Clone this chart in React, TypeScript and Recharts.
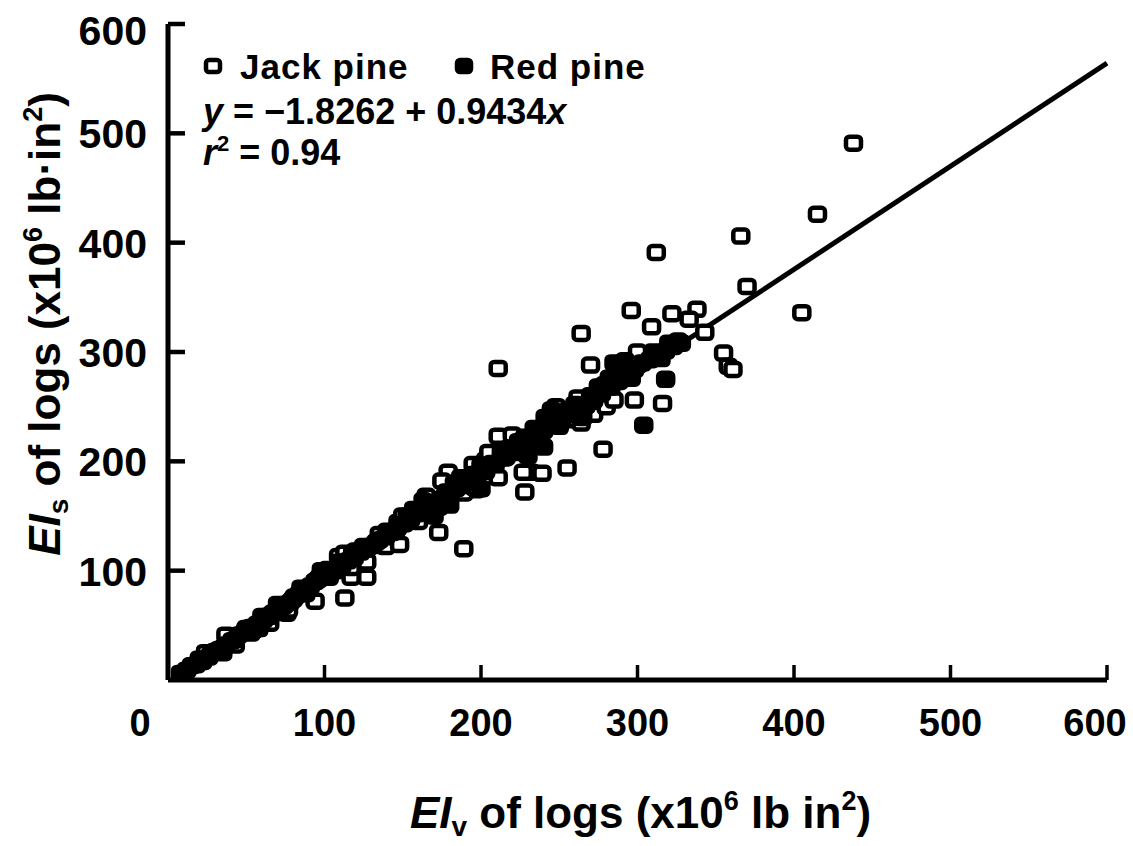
import React from 'react';
import { Legend, ReferenceLine, Scatter, ScatterChart, XAxis, YAxis } from 'recharts';

const FONT = '"Liberation Sans", Arial, Helvetica, sans-serif';

const xTicks = [0, 100, 200, 300, 400, 500, 600];
const yTicks = [100, 200, 300, 400, 500, 600];

// Jack pine: EIv (x) and EIs (y), x10^6 lb·in²
const jackPineEIv = [
  438, 415, 366, 370, 405, 343, 312, 296, 309, 322, 338, 355, 358, 361, 264, 211, 270, 279,
  310, 298, 316, 278, 255, 211, 228, 232, 179, 203, 187, 173, 189, 113, 94, 117, 117,
  24, 35, 43, 37, 53, 65, 76, 77, 109, 113, 127, 127, 139, 148, 147, 197, 211, 216, 227,
  239, 220, 232, 241, 256, 264, 272, 280, 285, 255, 230, 237, 333, 189, 196, 212, 60, 85,
  100, 150, 160, 120, 135, 165, 175, 195, 205, 248, 262, 290, 300, 58, 70, 88,
];
const jackPineEIs = [
  491, 426, 406, 360, 336, 318, 391, 338, 323, 335, 339, 299, 287, 284, 317, 285, 288, 270,
  296, 256, 253, 211, 194, 223, 172, 190, 190, 201, 181, 135, 120, 75, 72, 94, 103,
  25, 25, 32, 41, 43, 52, 61, 64, 113, 116, 108, 94, 122, 124, 144, 174, 185, 204, 190,
  189, 224, 217, 240, 238, 235, 243, 250, 256, 243, 220, 227, 330, 171, 176, 203, 58, 84,
  96, 150, 145, 118, 133, 168, 182, 197, 208, 250, 258, 288, 300, 47, 69, 79,
];

// Red pine: EIv (x) and EIs (y)
const redPineEIv = [
  8, 12, 15, 18, 20, 22, 26, 28, 30, 33, 35, 37, 41, 43, 45, 49, 50, 53, 55, 57, 61, 63, 64,
  67, 70, 71, 74, 78, 80, 81, 84, 86, 88, 91, 94, 96, 97, 98, 100, 102, 103, 107, 110, 111,
  115, 118, 119, 123, 125, 127, 131, 133, 135, 139, 140, 143, 146, 147, 151, 153, 155, 157,
  159, 162, 163, 165, 167, 168, 170, 171, 173, 174, 177, 178, 180, 183, 184, 187, 188, 192,
  195, 197, 200, 203, 207, 209, 213, 215, 218, 221, 224, 227, 228, 232, 234, 236, 238, 240,
  242, 244, 246, 248, 250, 252, 255, 257, 260, 262, 267, 270, 272, 275, 277, 282, 283, 288,
  290, 293, 296, 298, 300, 303, 308, 310, 313, 315, 318, 320, 323, 326, 328,
  304, 318, 285, 292, 240, 245, 230, 265, 200, 180,
];
const redPineEIs = [
  6, 9, 13, 14, 19, 17, 21, 25, 26, 28, 29, 32, 36, 37, 41, 44, 47, 48, 46, 51, 55, 58, 58,
  61, 66, 64, 68, 71, 74, 76, 79, 80, 83, 86, 90, 92, 94, 100, 97, 101, 94, 100, 108, 104,
  109, 116, 112, 117, 122, 120, 123, 126, 128, 131, 136, 135, 138, 140, 143, 150, 147, 156,
  152, 157, 164, 160, 160, 156, 150, 161, 158, 165, 168, 172, 171, 180, 175, 185, 178, 181,
  188, 186, 196, 191, 198, 197, 208, 203, 212, 208, 218, 215, 222, 220, 230, 224, 220, 228,
  238, 233, 242, 236, 232, 240, 246, 243, 252, 247, 251, 260, 256, 268, 262, 276, 268, 273,
  282, 280, 276, 284, 288, 290, 293, 300, 297, 294, 301, 308, 305, 310, 308,
  233, 275, 290, 292, 213, 247, 205, 240, 175, 160,
];

const fitIntercept = -1.8262;
const fitSlope = 0.9434;
const fitFrom = 5;
const fitTo = 600;

const jackPine = jackPineEIv.map((x, i) => ({ x, y: jackPineEIs[i] }));
const redPine = redPineEIv.map((x, i) => ({ x, y: redPineEIs[i] }));

const square = (filled: boolean) => (props: any) => {
  const { cx, cy } = props;
  if (cx == null || cy == null) return <g />;
  return (
    <rect
      x={cx - 7.5}
      y={cy - 6.5}
      width={15}
      height={13}
      rx={3.5}
      fill={filled ? '#000' : '#fff'}
      stroke="#000"
      strokeWidth={4.5}
    />
  );
};

const XTick = ({ x, y, payload }: any) => {
  const v = payload.value;
  const dx = v === 0 ? -28 : v === 600 ? -12 : 0;
  return (
    <g>
      {v !== 0 && <line x1={x} x2={x} y1={y} y2={y - 15} stroke="#000" strokeWidth={3.5} />}
      <text x={x + dx} y={y + 56} textAnchor="middle" fontFamily={FONT} fontWeight={700} fontSize={38} fill="#000">
        {v}
      </text>
    </g>
  );
};

const YTick = ({ x, y, payload }: any) => {
  const v = payload.value;
  return (
    <g>
      <line x1={x} x2={x + 17} y1={y} y2={y} stroke="#000" strokeWidth={4.5} />
      <text x={x - 21} y={y + 15 + (v === 600 ? 6 : 0)} textAnchor="end" fontFamily={FONT} fontWeight={700} fontSize={41} fill="#000">
        {v}
      </text>
    </g>
  );
};

const XTitle = ({ viewBox }: any) => (
  <text x={viewBox.x + viewBox.width / 2 + 3} y={viewBox.y + 148} textAnchor="middle" fontFamily={FONT} fontWeight={700} fontSize={44} fill="#000">
    <tspan fontStyle="italic">EI</tspan>
    <tspan fontSize={28} dy={8}>v</tspan>
    <tspan dy={-8}> of logs (x10</tspan>
    <tspan fontSize={27} dy={-18}>6</tspan>
    <tspan dy={18}> lb in</tspan>
    <tspan fontSize={27} dy={-18}>2</tspan>
    <tspan dy={18}>)</tspan>
  </text>
);

const YTitle = ({ viewBox }: any) => (
  <text transform={`translate(44,${viewBox.y + 300}) rotate(-90)`} x={0} y={16} textAnchor="middle" fontFamily={FONT} fontWeight={700} fontSize={44} fill="#000">
    <tspan fontStyle="italic">EI</tspan>
    <tspan fontSize={28} dy={8}>s</tspan>
    <tspan dy={-8}> of logs (x10</tspan>
    <tspan fontSize={27} dy={-18}>6</tspan>
    <tspan dy={18}> lb·in</tspan>
    <tspan fontSize={27} dy={-18}>2</tspan>
    <tspan dy={18}>)</tspan>
  </text>
);

const LegendBlock = () => (
  <svg width={700} height={180} style={{ overflow: 'visible' }}>
    <rect x={206} y={60} width={14} height={12} rx={3} fill="#fff" stroke="#000" strokeWidth={4.5} />
    <text x={240} y={79} fontFamily={FONT} fontWeight={700} fontSize={35} letterSpacing={1} fill="#000">Jack pine</text>
    <rect x={457} y={60} width={14} height={12} rx={3} fill="#000" stroke="#000" strokeWidth={4.5} />
    <text x={490} y={79} fontFamily={FONT} fontWeight={700} fontSize={35} letterSpacing={1} fill="#000">Red pine</text>
    <text x={203} y={124} fontFamily={FONT} fontWeight={700} fontSize={36} fill="#000">
      <tspan fontStyle="italic">y</tspan> = −1.8262 + 0.9434<tspan fontStyle="italic">x</tspan>
    </text>
    <text x={203} y={165} fontFamily={FONT} fontWeight={700} fontSize={36} fill="#000">
      <tspan fontStyle="italic">r</tspan>
      <tspan fontSize={22} dy={-14}>2</tspan>
      <tspan dy={14}> = 0.94</tspan>
    </text>
  </svg>
);

export default function App() {
  return (
    <div style={{ position: 'absolute', left: 0, top: 0, width: 1133, height: 846, background: '#fff' }}>
      <ScatterChart width={1133} height={846} margin={{ top: 24, right: 26, bottom: 0, left: 0 }}>
        <XAxis
          type="number"
          dataKey="x"
          domain={[0, 600]}
          ticks={xTicks}
          interval={0}
          height={166}
          tickSize={0}
          tickMargin={0}
          tickLine={false}
          tick={<XTick />}
          axisLine={{ stroke: '#000', strokeWidth: 5 }}
          allowDataOverflow
          label={{ content: (p: any) => <XTitle viewBox={p.viewBox} /> }}
        />
        <YAxis
          type="number"
          dataKey="y"
          domain={[0, 600]}
          ticks={yTicks}
          interval={0}
          width={168}
          tickSize={0}
          tickMargin={0}
          tickLine={false}
          tick={<YTick />}
          axisLine={{ stroke: '#000', strokeWidth: 5 }}
          allowDataOverflow
          label={{ content: (p: any) => <YTitle viewBox={p.viewBox} /> }}
        />
        <Legend
          layout="vertical"
          align="center"
          verticalAlign="middle"
          content={() => <LegendBlock />}
          wrapperStyle={{ left: 0, top: 0, width: 700, height: 180 }}
        />
        <Scatter name="Jack pine" data={jackPine} shape={square(false)} isAnimationActive={false} />
        <Scatter name="Red pine" data={redPine} shape={square(true)} isAnimationActive={false} />
        <ReferenceLine
          segment={[
            { x: fitFrom, y: fitIntercept + fitSlope * fitFrom },
            { x: fitTo, y: fitIntercept + fitSlope * fitTo },
          ]}
          stroke="#000"
          strokeWidth={5}
          ifOverflow="visible"
        />
      </ScatterChart>
    </div>
  );
}
